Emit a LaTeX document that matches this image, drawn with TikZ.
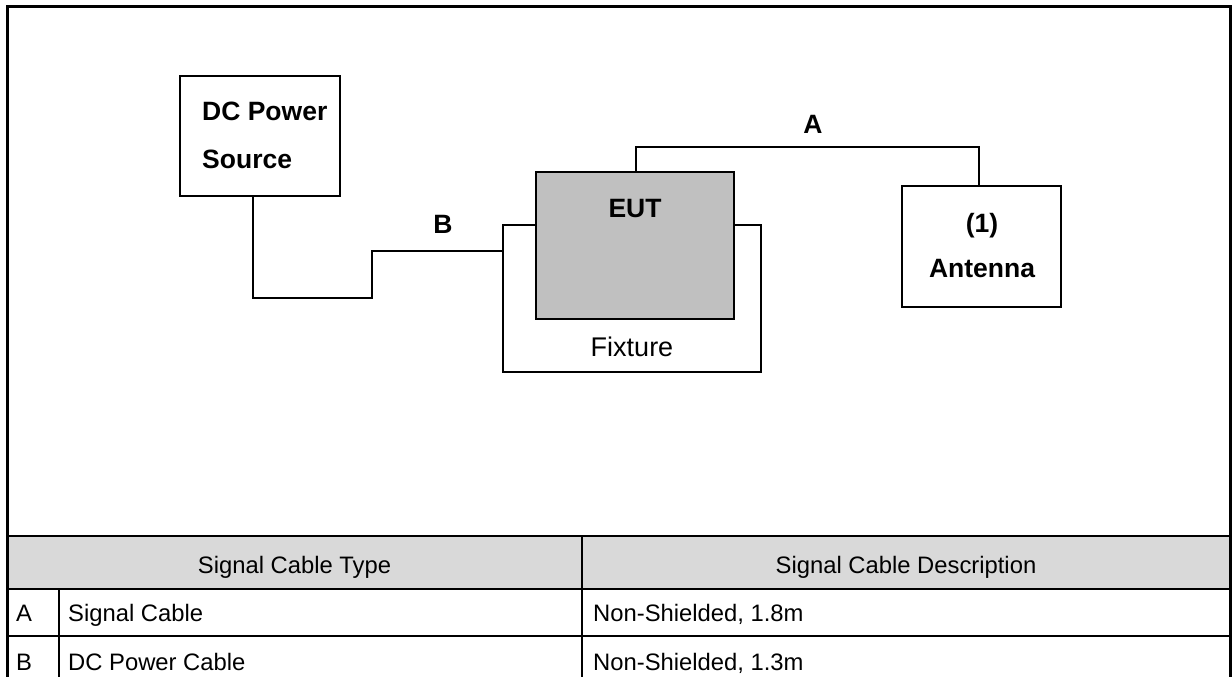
\documentclass[tikz,border=0pt]{standalone}
\usepackage{fontspec}
\setmainfont{Liberation Sans}
\usetikzlibrary{calc}
\definecolor{eutgray}{HTML}{C0C0C0}
\definecolor{headgray}{HTML}{D9D9D9}
\begin{document}
\begin{tikzpicture}[x=1pt,y=-1pt,
  box/.style={draw, line width=1.5pt, inner sep=0pt, outer sep=0pt},
  wire/.style={line width=1.5pt},
  lbl/.style={font=\fontsize{26.5}{31}\selectfont\bfseries, inner sep=0pt, anchor=base},
  plain/.style={font=\fontsize{27}{32}\selectfont, inner sep=0pt, anchor=base},
  tbl/.style={font=\fontsize{23.8}{28}\selectfont, inner sep=0pt, anchor=base},
  rule/.style={line width=2.5pt},
  frame/.style={line width=3pt}
]
\useasboundingbox (0,0) rectangle (1232,677);
% table header fill
\fill[headgray] (7,536) rectangle (1230,589);
% outer frame
\draw[frame] (7,690) -- (7,7) -- (1230,7) -- (1230,690);
% table rules
\draw[rule] (7,536) -- (1230,536);
\draw[rule] (7,589) -- (1230,589);
\draw[rule] (7,636) -- (1230,636);
\draw[rule] (582,536) -- (582,690);
\draw[rule] (59,589) -- (59,690);
% table text
\node[tbl, anchor=base] (h1) at (294.5,573) {Signal Cable Type};
\node[tbl, anchor=base] (h2) at (906,573) {Signal Cable Description};
\node[tbl, anchor=base] (ra) at (24,621) {A};
\node[tbl, anchor=base west] (rad) at (68,621) {Signal Cable};
\node[tbl, anchor=base west] (rae) at (593,621) {Non-Shielded, 1.8m};
\node[tbl, anchor=base] (rb) at (24,670) {B};
\node[tbl, anchor=base west] (rbd) at (68,670) {DC Power Cable};
\node[tbl, anchor=base west] (rbe) at (593,670) {Non-Shielded, 1.3m};
% diagram boxes
\node[box, minimum width=160pt, minimum height=120pt] (dc) at (260,136) {};
\node[box, minimum width=258pt, minimum height=147pt] (fix) at (632,298.5) {};
\node[box, fill=eutgray, minimum width=198pt, minimum height=147pt] (eut) at (635,245.5) {};
\node[box, minimum width=159pt, minimum height=121pt] (ant) at (981.5,246.5) {};
% box texts
\node[lbl, anchor=base west] (dct1) at (202,121) {DC Power};
\node[lbl, anchor=base west] (dct2) at (202,168) {Source};
\node[lbl] (eutt) at (635,217) {EUT};
\node[plain] (fixt) at (632,356) {Fixture};
\node[lbl] (ant1) at (982,232) {(1)};
\node[lbl] (ant2) at (982,277) {Antenna};
% wires
\coordinate (bbend) at (372,298);
\draw[wire] ([xshift=-7pt]dc.south) |- (bbend) |- ([yshift=-26pt]fix.north west);
\draw[wire] ([xshift=1pt]eut.north) -- ++(0,-25) coordinate (aleft) -| ([xshift=-2.5pt]ant.north);
% cable labels
\node[lbl] (labA) at (813,133) {A};
\node[lbl] (labB) at (443,233) {B};
\end{tikzpicture}
\end{document}
